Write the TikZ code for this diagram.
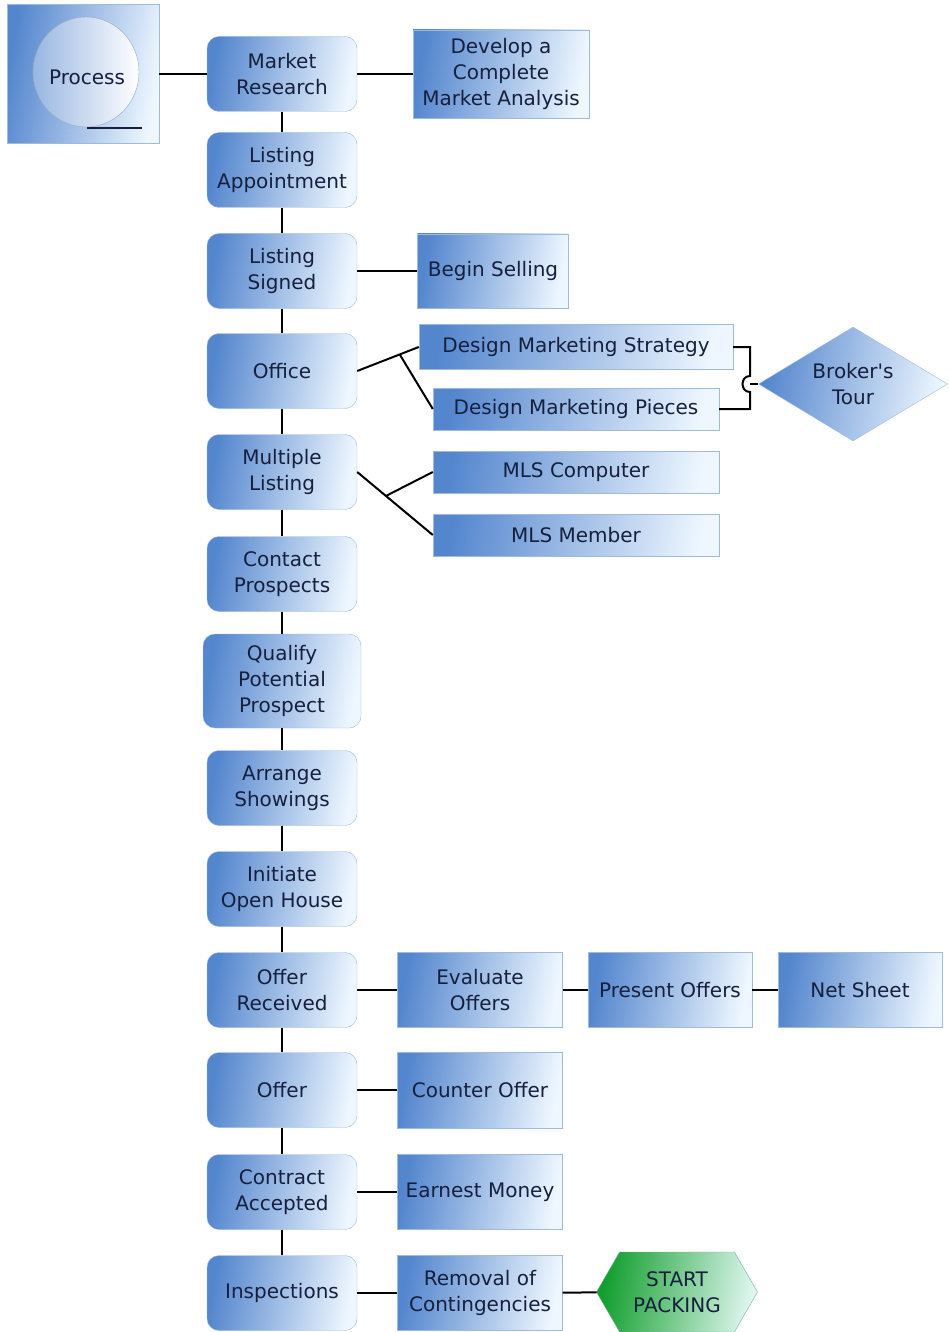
\documentclass[tikz,border=0pt]{standalone}
\usepackage{fontspec}
\setmainfont{DejaVu Sans}
\usetikzlibrary{shapes.geometric,shapes.symbols,calc}
\definecolor{boxBlue}{RGB}{84,134,206}
\definecolor{boxLight}{RGB}{238,247,255}
\definecolor{edgeBlue}{RGB}{160,186,218}
\definecolor{textNavy}{RGB}{22,32,62}
\definecolor{packGreen}{RGB}{18,158,46}
\definecolor{packLight}{RGB}{222,246,238}
\tikzstyle{flow} = [x=1pt, y=-1pt, every node/.style={font=\fontsize{20}{26}\selectfont, text=textNavy, align=center, inner sep=0pt}]
\tikzstyle{stepStyle} = [draw=edgeBlue, thin, left color=boxBlue, right color=boxLight, shading angle=80, rounded corners=12pt, minimum width=150pt, minimum height=75pt]
\tikzstyle{taskStyle} = [draw=edgeBlue, thin, left color=boxBlue, right color=boxLight, shading angle=80]
\tikzstyle{link} = [black, line width=2pt]
\newcommand{\stepBox}[3]{\node [stepStyle] (#1) at (282,#2) {#3};}
\newcommand{\taskBox}[6]{\node [taskStyle, minimum width=#4pt, minimum height=#5pt] (#1) at (#2,#3) {#6};}

\begin{document}
\begin{tikzpicture}[flow]
\useasboundingbox (0,0) rectangle (948,1332);
% process marker
\node [taskStyle, minimum width=152pt, minimum height=139pt] (procBox) at (83,74) {};
\draw [edgeBlue!70!gray, left color=boxBlue!60, right color=white] (86,72) ellipse [x radius=53, y radius=55];
\draw [textNavy, line width=1.6pt] (87,128) -- (142,128);
\node (procText) at (87,77) {Process};
% main column
\stepBox{research}{74}{Market\\Research}
\stepBox{appointment}{170}{Listing\\Appointment}
\stepBox{signed}{271}{Listing\\Signed}
\stepBox{office}{371}{Office}
\stepBox{multiple}{472}{Multiple\\Listing}
\stepBox{contact}{574}{Contact\\Prospects}
\node [stepStyle, minimum width=158pt, minimum height=94pt] (qualify) at (282,681) {Qualify\\Potential\\Prospect};
\stepBox{showings}{788}{Arrange\\Showings}
\stepBox{openHouse}{889}{Initiate\\Open House}
\stepBox{received}{990}{Offer\\Received}
\stepBox{offer}{1090}{Offer}
\stepBox{accepted}{1192}{Contract\\Accepted}
\stepBox{inspections}{1293}{Inspections}
% side tasks
\taskBox{analysis}{501}{74}{176}{88}{Develop a\\Complete\\Market Analysis}
\taskBox{selling}{493}{271}{151}{74}{Begin Selling}
\taskBox{strategy}{576}{347}{314}{45}{Design Marketing Strategy}
\taskBox{pieces}{576}{409}{286}{42}{Design Marketing Pieces}
\taskBox{mlsComputer}{576}{472}{286}{42}{MLS Computer}
\taskBox{mlsMember}{576}{535}{286}{42}{MLS Member}
\taskBox{evaluate}{480}{990}{165}{75}{Evaluate\\Offers}
\taskBox{present}{670}{990}{164}{75}{Present Offers}
\taskBox{netSheet}{860}{990}{164}{75}{Net Sheet}
\taskBox{counter}{480}{1090}{165}{76}{Counter Offer}
\taskBox{earnest}{480}{1192}{165}{75}{Earnest Money}
\taskBox{removal}{480}{1293}{165}{75}{Removal of\\Contingencies}
\node [taskStyle, diamond, aspect=1.66, minimum width=189pt, minimum height=114pt] (brokers) at (853,384) {Broker\textquotesingle s\\Tour};
\node [draw=packGreen!30!edgeBlue, signal, signal to=east and west, signal pointer angle=120, left color=packGreen, right color=packLight, shading angle=80, minimum width=161pt, minimum height=80pt] (packing) at (677,1292) {START\\PACKING};
% connectors
\draw [link] (procBox) -- (research);
\draw [link] (research) -- (analysis);
\draw [link] (signed) -- (selling);
\foreach \a/\b in {research/appointment, appointment/signed, signed/office, office/multiple, multiple/contact, contact/qualify, qualify/showings, showings/openHouse, openHouse/received, received/offer, offer/accepted, accepted/inspections}
  \draw [link] (\a) -- (\b);
\draw [link] (office.east) -- (strategy.west);
\draw [link] ($(office.east)!0.69!(strategy.west)$) -- (pieces.west);
\draw [link] (multiple.east) -- (mlsMember.west);
\draw [link] ($(multiple.east)!0.38!(mlsMember.west)$) -- (mlsComputer.west);
\coordinate (hopTop) at (750,376);
\coordinate (hopMid) at (750,384);
\coordinate (hopBot) at (750,392);
\draw [link] (strategy.east) -| (hopTop) .. controls (740,376) and (740,392) .. (hopBot) |- (pieces.east);
\draw [link] (hopMid) -- (brokers.west);
\draw [link] (received) -- (evaluate);
\draw [link] (evaluate) -- (present);
\draw [link] (present) -- (netSheet);
\draw [link] (offer) -- (counter);
\draw [link] (accepted) -- (earnest);
\draw [link] (inspections) -- (removal);
\draw [link] (removal) -- (packing);
\end{tikzpicture}
\end{document}
